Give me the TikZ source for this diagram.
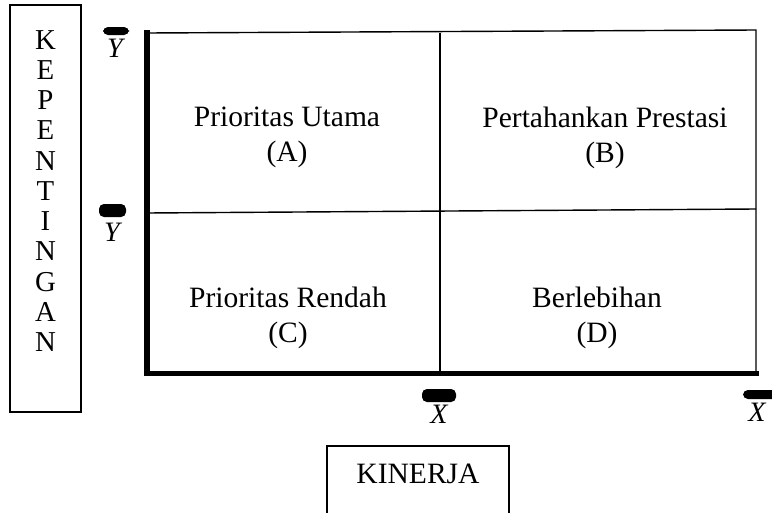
\documentclass[tikz,border=0pt]{standalone}
\usepackage{fontspec}
\setmainfont{Liberation Serif}
\usetikzlibrary{positioning}
\tikzset{
  ln/.style  ={draw=black, line width=1pt},
  lnb/.style ={draw=black, line width=4pt, line cap=rect},
  lab/.style ={font=\fontsize{21}{24.9}\selectfont, align=center, inner sep=1pt},
  labv/.style={font=\fontsize{20.5}{21.5}\selectfont, align=center, inner sep=1pt},
  var/.style ={font=\fontsize{20}{22}\selectfont\itshape, inner sep=0pt},
  bar/.style ={fill=black, rounded corners=3.5pt},
}
\begin{document}
\begin{tikzpicture}[x=0.025cm, y=-0.025cm]
  \useasboundingbox (0,0) rectangle (772,513);
  % axis boxes
  \draw[ln] (10,5) rectangle (81,412);
  \node[labv] (kep) at (45.5,191) {K\\E\\P\\E\\N\\T\\I\\N\\G\\A\\N};
  \draw[ln] (327,513) -- (327,446) -- (509,446) -- (509,513);
  \node[lab] (kin) at (418,474) {KINERJA};
  % quadrant frame
  \draw[ln] (147,33) -- (756,30) -- (756,373);
  \draw[ln] (440,33) -- (440,373);
  \draw[ln] (147,213) -- (756,209);
  \draw[lnb] (147,33) -- (147,373.5) -- (756,373.5);
  % quadrant labels
  \node[lab] (qa) at (287,137.5) {Prioritas Utama\\(A)};
  \node[lab] (qb) at (605,137.5) {Pertahankan Prestasi\\(B)};
  \node[lab] (qc) at (288,317.5) {Prioritas Rendah\\(C)};
  \node[lab] (qd) at (597,317.5) {Berlebihan\\(D)};
  % means
  \fill[bar] (103,27) rectangle (129,35);
  \node[var] (ya) at (115,48.5) {Y};
  \fill[bar] (99,204) rectangle (126,217);
  \node[var] (yb) at (112,232) {Y};
  \fill[bar] (422,389) rectangle (456,402);
  \node[var] (xa) at (439,414) {X};
  \begin{scope}
    \clip (0,0) rectangle (772,513);
    \fill[bar] (743,390) rectangle (790,399);
  \end{scope}
  \node[var] (xb) at (757,412) {X};
\end{tikzpicture}
\end{document}
